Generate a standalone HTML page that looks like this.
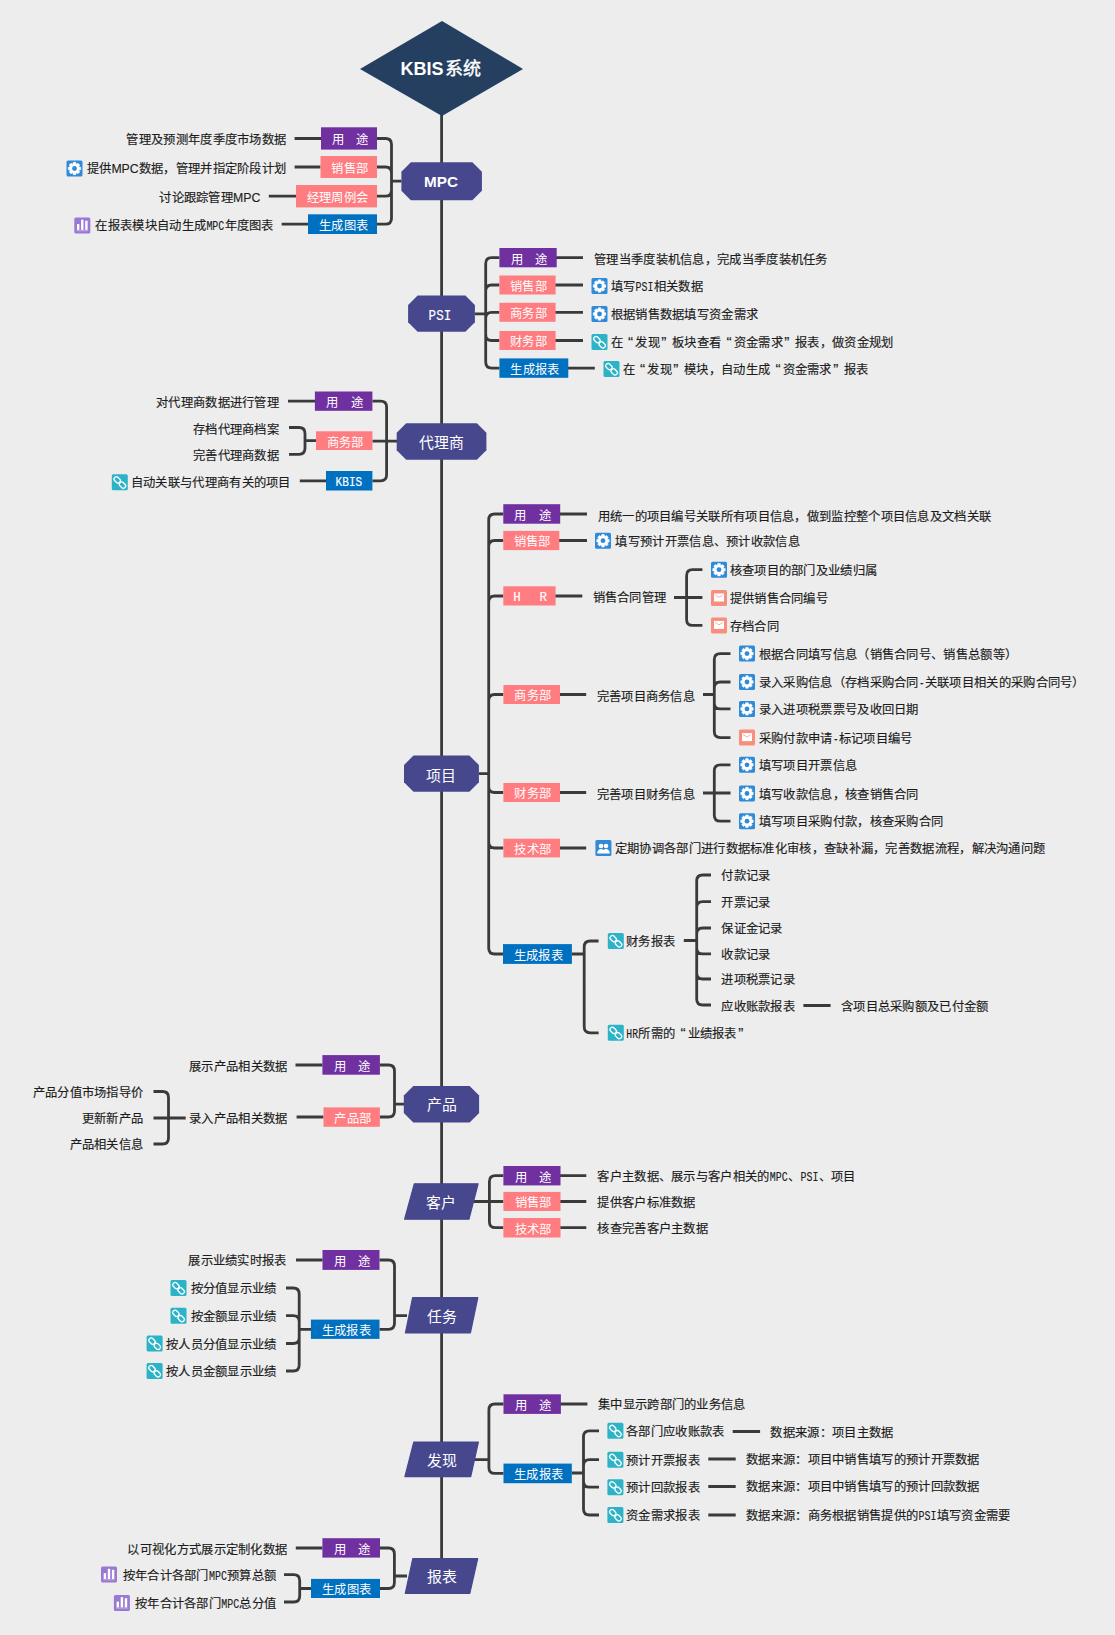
<!DOCTYPE html>
<html lang="zh-CN"><head><meta charset="utf-8"><title>KBIS系统</title>
<style>
html,body{margin:0;padding:0;background:#ededed;}
body{width:1115px;height:1635px;overflow:hidden;font-family:"Liberation Sans",sans-serif;}
svg{display:block;font-family:"Liberation Sans",sans-serif;}
</style></head><body>
<svg width="1115" height="1635" viewBox="0 0 1115 1635">
<rect width="1115" height="1635" fill="#ededed"/>
<path d="M441.6 110.0L441.6 1560.0M401.5 181.2L391.5 181.2L391.5 144.5Q391.5 138.5 385.5 138.5L377.0 138.5M401.5 181.2L391.5 181.2L391.5 173.0Q391.5 167.0 385.5 167.0L377.0 167.0M401.5 181.2L391.5 181.2L391.5 190.2Q391.5 196.2 385.5 196.2L377.0 196.2M401.5 181.2L391.5 181.2L391.5 218.2Q391.5 224.2 385.5 224.2L377.0 224.2M294.6 138.5L321.0 138.5M294.6 167.0L320.5 167.0M268.8 196.2L296.0 196.2M281.7 224.2L308.0 224.2M475.0 313.8L485.7 313.8L485.7 263.7Q485.7 257.7 491.7 257.7L499.4 257.7M475.0 313.8L485.7 313.8L485.7 291.0Q485.7 285.0 491.7 285.0L499.4 285.0M475.0 313.8L485.7 313.8L485.7 318.3Q485.7 312.3 491.7 312.3L499.4 312.3M475.0 313.8L485.7 313.8L485.7 334.5Q485.7 340.5 491.7 340.5L499.4 340.5M475.0 313.8L485.7 313.8L485.7 362.1Q485.7 368.1 491.7 368.1L499.4 368.1M555.0 257.7L583.0 257.7M555.0 285.0L583.0 285.0M555.0 312.3L583.0 312.3M555.0 340.5L583.0 340.5M568.0 368.1L594.8 368.1M397.0 441.2L386.6 441.2L386.6 407.2Q386.6 401.2 380.6 401.2L372.4 401.2M397.0 441.2L372.4 441.2M397.0 441.2L386.6 441.2L386.6 474.8Q386.6 480.8 380.6 480.8L372.4 480.8M288.0 401.2L315.0 401.2M299.8 480.8L326.0 480.8M316.0 440.7L305.0 440.7L305.0 433.5Q305.0 427.5 299.0 427.5L289.0 427.5M316.0 440.7L305.0 440.7L305.0 448.3Q305.0 454.3 299.0 454.3L289.0 454.3M479.0 773.6L488.7 773.6L488.7 520.0Q488.7 514.0 494.7 514.0L503.3 514.0M479.0 773.6L488.7 773.6L488.7 546.5Q488.7 540.5 494.7 540.5L503.3 540.5M479.0 773.6L488.7 773.6L488.7 602.0Q488.7 596.0 494.7 596.0L503.3 596.0M479.0 773.6L488.7 773.6L488.7 700.5Q488.7 694.5 494.7 694.5L503.3 694.5M479.0 773.6L488.7 773.6L488.7 786.5Q488.7 792.5 494.7 792.5L503.3 792.5M479.0 773.6L488.7 773.6L488.7 842.0Q488.7 848.0 494.7 848.0L503.3 848.0M479.0 773.6L488.7 773.6L488.7 948.0Q488.7 954.0 494.7 954.0L503.3 954.0M560.0 514.0L587.0 514.0M559.0 540.5L587.0 540.5M555.0 596.0L582.3 596.0M560.0 694.5L586.2 694.5M560.0 792.5L586.2 792.5M560.0 848.0L586.2 848.0M674.0 597.5L686.6 597.5L686.6 575.7Q686.6 569.7 692.6 569.7L702.4 569.7M674.0 597.5L702.4 597.5M674.0 597.5L686.6 597.5L686.6 619.4Q686.6 625.4 692.6 625.4L702.4 625.4M703.0 694.5L714.3 694.5L714.3 659.6Q714.3 653.6 720.3 653.6L730.5 653.6M703.0 694.5L714.3 694.5L714.3 688.0Q714.3 682.0 720.3 682.0L730.5 682.0M703.0 694.5L714.3 694.5L714.3 702.9Q714.3 708.9 720.3 708.9L730.5 708.9M703.0 694.5L714.3 694.5L714.3 731.6Q714.3 737.6 720.3 737.6L730.5 737.6M703.0 793.0L714.3 793.0L714.3 770.8Q714.3 764.8 720.3 764.8L730.5 764.8M703.0 793.0L730.5 793.0M703.0 793.0L714.3 793.0L714.3 815.2Q714.3 821.2 720.3 821.2L730.5 821.2M571.9 954.0L584.2 954.0L584.2 947.0Q584.2 941.0 590.2 941.0L598.6 941.0M571.9 954.0L584.2 954.0L584.2 1026.8Q584.2 1032.8 590.2 1032.8L598.6 1032.8M683.8 940.5L696.7 940.5L696.7 881.0Q696.7 875.0 702.7 875.0L711.0 875.0M683.8 940.5L696.7 940.5L696.7 907.6Q696.7 901.6 702.7 901.6L711.0 901.6M683.8 940.5L696.7 940.5L696.7 934.0Q696.7 928.0 702.7 928.0L711.0 928.0M683.8 940.5L696.7 940.5L696.7 947.9Q696.7 953.9 702.7 953.9L711.0 953.9M683.8 940.5L696.7 940.5L696.7 973.0Q696.7 979.0 702.7 979.0L711.0 979.0M683.8 940.5L696.7 940.5L696.7 999.0Q696.7 1005.0 702.7 1005.0L711.0 1005.0M803.4 1005.5L830.6 1005.5M404.0 1104.2L394.5 1104.2L394.5 1071.0Q394.5 1065.0 388.5 1065.0L379.9 1065.0M404.0 1104.2L394.5 1104.2L394.5 1111.0Q394.5 1117.0 388.5 1117.0L379.9 1117.0M295.5 1065.0L322.4 1065.0M296.6 1117.0L323.5 1117.0M185.7 1118.0L168.5 1118.0L168.5 1097.5Q168.5 1091.5 162.5 1091.5L153.5 1091.5M185.7 1118.0L153.5 1118.0M185.7 1118.0L168.5 1118.0L168.5 1138.0Q168.5 1144.0 162.5 1144.0L153.5 1144.0M474.0 1201.5L489.4 1201.5L489.4 1181.7Q489.4 1175.7 495.4 1175.7L503.4 1175.7M474.0 1201.5L503.4 1201.5M474.0 1201.5L489.4 1201.5L489.4 1221.7Q489.4 1227.7 495.4 1227.7L503.4 1227.7M560.0 1175.7L586.3 1175.7M560.0 1201.5L586.3 1201.5M560.0 1227.7L586.3 1227.7M407.0 1315.7L394.5 1315.7L394.5 1266.0Q394.5 1260.0 388.5 1260.0L379.5 1260.0M407.0 1315.7L394.5 1315.7L394.5 1323.3Q394.5 1329.3 388.5 1329.3L379.5 1329.3M296.0 1260.0L322.5 1260.0M311.0 1329.3L299.2 1329.3L299.2 1294.0Q299.2 1288.0 293.2 1288.0L286.0 1288.0M311.0 1329.3L299.2 1329.3L299.2 1321.7Q299.2 1315.7 293.2 1315.7L286.0 1315.7M311.0 1329.3L299.2 1329.3L299.2 1337.5Q299.2 1343.5 293.2 1343.5L286.0 1343.5M311.0 1329.3L299.2 1329.3L299.2 1365.0Q299.2 1371.0 293.2 1371.0L286.0 1371.0M474.0 1459.7L488.9 1459.7L488.9 1410.0Q488.9 1404.0 494.9 1404.0L503.5 1404.0M474.0 1459.7L488.9 1459.7L488.9 1467.4Q488.9 1473.4 494.9 1473.4L503.5 1473.4M560.0 1404.0L587.4 1404.0M571.8 1473.0L583.5 1473.0L583.5 1436.8Q583.5 1430.8 589.5 1430.8L599.0 1430.8M571.8 1473.0L583.5 1473.0L583.5 1465.7Q583.5 1459.7 589.5 1459.7L599.0 1459.7M571.8 1473.0L583.5 1473.0L583.5 1481.2Q583.5 1487.2 589.5 1487.2L599.0 1487.2M571.8 1473.0L583.5 1473.0L583.5 1509.0Q583.5 1515.0 589.5 1515.0L599.0 1515.0M732.7 1431.5L760.1 1431.5M708.3 1459.0L735.7 1459.0M708.3 1486.5L735.7 1486.5M708.3 1515.0L735.7 1515.0M407.0 1576.0L394.4 1576.0L394.4 1554.0Q394.4 1548.0 388.4 1548.0L380.0 1548.0M407.0 1576.0L394.4 1576.0L394.4 1582.5Q394.4 1588.5 388.4 1588.5L380.0 1588.5M295.8 1548.0L322.4 1548.0M311.0 1588.5L299.7 1588.5L299.7 1580.7Q299.7 1574.7 293.7 1574.7L284.0 1574.7M311.0 1588.5L299.7 1588.5L299.7 1596.0Q299.7 1602.0 293.7 1602.0L284.0 1602.0" fill="none" stroke="#3a3a3a" stroke-width="2.8" stroke-linecap="butt" stroke-linejoin="round"/>
<polygon points="360,69 442,21 523,69 442,116" fill="#243f5f"/>
<text x="400.6" y="75.1" textLength="43.0" lengthAdjust="spacingAndGlyphs" style="font-family:'Liberation Sans',sans-serif;font-size:18.0px;font-weight:bold" fill="#ffffff">KBIS</text>
<text y="75.3" style="font-size:18.0px;font-weight:normal" fill="#ffffff" stroke="#ffffff" stroke-width="0.40"><tspan x="445.0 463.0">系统</tspan></text>
<polygon points="410.9,162.2 472.4,162.2 481.9,171.7 481.9,190.7 472.4,200.2 410.9,200.2 401.4,190.7 401.4,171.7" fill="#46478d"/>
<text x="424.0" y="187.1" textLength="34.0" lengthAdjust="spacingAndGlyphs" style="font-family:'Liberation Sans',sans-serif;font-size:15.3px;font-weight:bold" fill="#ffffff">MPC</text>
<polygon points="417.6,295.5 465.4,295.5 474.9,305.0 474.9,322.3 465.4,331.8 417.6,331.8 408.1,322.3 408.1,305.0" fill="#46478d"/>
<polygon points="406.2,423.3 476.9,423.3 486.4,432.8 486.4,450.2 476.9,459.7 406.2,459.7 396.7,450.2 396.7,432.8" fill="#46478d"/>
<polygon points="413.5,755.5 469.4,755.5 478.9,765.0 478.9,782.3 469.4,791.8 413.5,791.8 404.0,782.3 404.0,765.0" fill="#46478d"/>
<polygon points="413.3,1085.9 469.6,1085.9 479.1,1095.4 479.1,1113.0 469.6,1122.5 413.3,1122.5 403.8,1113.0 403.8,1095.4" fill="#46478d"/>
<path d="M414.3 1183.8L478.1 1183.8L469.0 1219.2L404.6 1219.2Z" fill="#46478d" stroke="#46478d" stroke-width="1.2" stroke-linejoin="round"/>
<path d="M412.6 1297.6L477.8 1297.6L470.4 1333.0L405.4 1333.0Z" fill="#46478d" stroke="#46478d" stroke-width="1.2" stroke-linejoin="round"/>
<path d="M413.8 1442.0L478.4 1442.0L470.7 1476.7L404.9 1476.7Z" fill="#46478d" stroke="#46478d" stroke-width="1.2" stroke-linejoin="round"/>
<path d="M412.8 1558.6L477.7 1558.6L469.8 1593.4L405.3 1593.4Z" fill="#46478d" stroke="#46478d" stroke-width="1.2" stroke-linejoin="round"/>
<text x="428.6" y="320" textLength="22.6" lengthAdjust="spacingAndGlyphs" style="font-family:'Liberation Mono',monospace;font-size:15.5px" fill="#fff" stroke="#fff" stroke-width="0.15">PSI</text>
<text y="447.7" style="font-size:14.9px;font-weight:normal" fill="#ffffff"><tspan x="419.1 434.0 448.9">代理商</tspan></text>
<text y="780.7" style="font-size:14.9px;font-weight:normal" fill="#ffffff"><tspan x="426.1 441.0">项目</tspan></text>
<text y="1110.4" style="font-size:14.9px;font-weight:normal" fill="#ffffff"><tspan x="426.6 441.5">产品</tspan></text>
<text y="1207.7" style="font-size:14.9px;font-weight:normal" fill="#ffffff"><tspan x="426.3 441.2">客户</tspan></text>
<text y="1321.5" style="font-size:14.9px;font-weight:normal" fill="#ffffff"><tspan x="426.8 441.7">任务</tspan></text>
<text y="1465.6" style="font-size:14.9px;font-weight:normal" fill="#ffffff"><tspan x="426.8 441.7">发现</tspan></text>
<text y="1582.2" style="font-size:14.9px;font-weight:normal" fill="#ffffff"><tspan x="426.6 441.5">报表</tspan></text>
<rect x="321.0" y="127.3" width="56.0" height="22.3" fill="#7030a0"/>
<text y="144.3" style="font-size:12.3px;font-weight:normal" fill="#ffffff"><tspan x="331.6 343.9 356.2">用　途</tspan></text>
<rect x="320.5" y="156.0" width="56.5" height="22.0" fill="#ff7c80"/>
<text y="172.8" style="font-size:12.3px;font-weight:normal" fill="#ffffff"><tspan x="331.3 343.6 355.9">销售部</tspan></text>
<rect x="296.0" y="185.0" width="81.0" height="22.4" fill="#ff7c80"/>
<text y="202.0" style="font-size:12.3px;font-weight:normal" fill="#ffffff"><tspan x="306.8 319.1 331.4 343.7 356.0">经理周例会</tspan></text>
<rect x="308.0" y="214.3" width="69.0" height="19.7" fill="#0070c0"/>
<text y="230.0" style="font-size:12.3px;font-weight:normal" fill="#ffffff"><tspan x="318.9 331.2 343.5 355.8">生成图表</tspan></text>
<rect x="499.4" y="248.0" width="57.3" height="19.3" fill="#7030a0"/>
<text y="263.5" style="font-size:12.3px;font-weight:normal" fill="#ffffff"><tspan x="510.6 522.9 535.2">用　途</tspan></text>
<rect x="499.4" y="275.5" width="56.2" height="19.0" fill="#ff7c80"/>
<text y="290.8" style="font-size:12.3px;font-weight:normal" fill="#ffffff"><tspan x="510.1 522.4 534.6">销售部</tspan></text>
<rect x="499.4" y="302.8" width="56.2" height="19.0" fill="#ff7c80"/>
<text y="318.1" style="font-size:12.3px;font-weight:normal" fill="#ffffff"><tspan x="510.1 522.4 534.6">商务部</tspan></text>
<rect x="499.4" y="331.0" width="56.2" height="19.0" fill="#ff7c80"/>
<text y="346.3" style="font-size:12.3px;font-weight:normal" fill="#ffffff"><tspan x="510.1 522.4 534.6">财务部</tspan></text>
<rect x="499.4" y="358.4" width="68.9" height="19.4" fill="#0070c0"/>
<text y="373.9" style="font-size:12.3px;font-weight:normal" fill="#ffffff"><tspan x="510.2 522.5 534.8 547.1">生成报表</tspan></text>
<rect x="314.9" y="391.5" width="57.5" height="19.3" fill="#7030a0"/>
<text y="407.0" style="font-size:12.3px;font-weight:normal" fill="#ffffff"><tspan x="326.2 338.5 350.8">用　途</tspan></text>
<rect x="316.0" y="431.3" width="56.4" height="18.7" fill="#ff7c80"/>
<text y="446.5" style="font-size:12.3px;font-weight:normal" fill="#ffffff"><tspan x="326.8 339.1 351.4">商务部</tspan></text>
<rect x="326.0" y="471.0" width="46.4" height="19.5" fill="#0070c0"/>
<text x="335.6" y="486.3" textLength="26.6" lengthAdjust="spacingAndGlyphs" style="font-family:'Liberation Mono',monospace;font-size:13px" fill="#fff" stroke="#fff" stroke-width="0.2">KBIS</text>
<rect x="503.3" y="504.2" width="56.9" height="19.5" fill="#7030a0"/>
<text y="519.8" style="font-size:12.3px;font-weight:normal" fill="#ffffff"><tspan x="514.3 526.6 538.9">用　途</tspan></text>
<rect x="503.3" y="530.9" width="56.0" height="19.2" fill="#ff7c80"/>
<text y="546.3" style="font-size:12.3px;font-weight:normal" fill="#ffffff"><tspan x="513.8 526.1 538.4">销售部</tspan></text>
<rect x="503.3" y="586.3" width="52.3" height="19.2" fill="#ff7c80"/>
<text y="601" style="font-family:'Liberation Mono',monospace;font-size:12.5px" fill="#fff" stroke="#fff" stroke-width="0.15"><tspan x="513.2">H</tspan><tspan x="539.6">R</tspan></text>
<rect x="503.4" y="685.0" width="56.6" height="19.0" fill="#ff7c80"/>
<text y="700.3" style="font-size:12.3px;font-weight:normal" fill="#ffffff"><tspan x="514.2 526.5 538.8">商务部</tspan></text>
<rect x="503.4" y="783.0" width="56.6" height="19.0" fill="#ff7c80"/>
<text y="798.3" style="font-size:12.3px;font-weight:normal" fill="#ffffff"><tspan x="514.2 526.5 538.8">财务部</tspan></text>
<rect x="503.4" y="838.7" width="56.6" height="18.7" fill="#ff7c80"/>
<text y="853.9" style="font-size:12.3px;font-weight:normal" fill="#ffffff"><tspan x="514.2 526.5 538.8">技术部</tspan></text>
<rect x="503.0" y="944.1" width="68.9" height="19.8" fill="#0070c0"/>
<text y="959.8" style="font-size:12.3px;font-weight:normal" fill="#ffffff"><tspan x="513.9 526.1 538.4 550.7">生成报表</tspan></text>
<rect x="322.4" y="1055.1" width="57.5" height="19.6" fill="#7030a0"/>
<text y="1070.7" style="font-size:12.3px;font-weight:normal" fill="#ffffff"><tspan x="333.7 346.0 358.3">用　途</tspan></text>
<rect x="323.5" y="1107.4" width="56.4" height="19.4" fill="#ff7c80"/>
<text y="1122.9" style="font-size:12.3px;font-weight:normal" fill="#ffffff"><tspan x="334.2 346.6 358.9">产品部</tspan></text>
<rect x="503.4" y="1166.0" width="57.1" height="19.4" fill="#7030a0"/>
<text y="1181.5" style="font-size:12.3px;font-weight:normal" fill="#ffffff"><tspan x="514.5 526.8 539.1">用　途</tspan></text>
<rect x="503.4" y="1191.9" width="57.1" height="19.1" fill="#ff7c80"/>
<text y="1207.3" style="font-size:12.3px;font-weight:normal" fill="#ffffff"><tspan x="514.5 526.8 539.1">销售部</tspan></text>
<rect x="503.4" y="1218.0" width="57.1" height="19.5" fill="#ff7c80"/>
<text y="1233.6" style="font-size:12.3px;font-weight:normal" fill="#ffffff"><tspan x="514.5 526.8 539.1">技术部</tspan></text>
<rect x="322.5" y="1250.0" width="57.0" height="19.9" fill="#7030a0"/>
<text y="1265.8" style="font-size:12.3px;font-weight:normal" fill="#ffffff"><tspan x="333.6 345.9 358.2">用　途</tspan></text>
<rect x="310.9" y="1319.6" width="68.6" height="19.3" fill="#0070c0"/>
<text y="1335.1" style="font-size:12.3px;font-weight:normal" fill="#ffffff"><tspan x="321.6 333.9 346.2 358.5">生成报表</tspan></text>
<rect x="503.5" y="1394.3" width="57.4" height="19.6" fill="#7030a0"/>
<text y="1409.9" style="font-size:12.3px;font-weight:normal" fill="#ffffff"><tspan x="514.8 527.0 539.3">用　途</tspan></text>
<rect x="503.5" y="1463.6" width="68.3" height="19.6" fill="#0070c0"/>
<text y="1479.2" style="font-size:12.3px;font-weight:normal" fill="#ffffff"><tspan x="514.0 526.3 538.6 550.9">生成报表</tspan></text>
<rect x="322.4" y="1538.2" width="57.6" height="19.4" fill="#7030a0"/>
<text y="1553.7" style="font-size:12.3px;font-weight:normal" fill="#ffffff"><tspan x="333.8 346.1 358.4">用　途</tspan></text>
<rect x="311.0" y="1578.9" width="69.0" height="19.1" fill="#0070c0"/>
<text y="1594.3" style="font-size:12.3px;font-weight:normal" fill="#ffffff"><tspan x="321.9 334.2 346.5 358.8">生成图表</tspan></text>
<text y="144.1" style="font-size:12.3px;font-weight:normal" fill="#1c1c1c" stroke="#1c1c1c" stroke-width="0.15"><tspan x="126.4 138.7 151.0 163.3 175.6 187.9 200.2 212.5 224.8 237.1 249.4 261.7 274.0">管理及预测年度季度市场数据</tspan></text>
<g transform="translate(66.5 160.5)"><rect x="0" y="0" width="16" height="16" rx="1.5" fill="#2f8ad8"/><path fill="#fff" stroke="#fff" stroke-width="0.6" stroke-linejoin="round" d="M6.52 3.33L6.77 1.82L9.23 1.82L9.48 3.33L10.26 3.65L11.50 2.76L13.24 4.50L12.35 5.74L12.67 6.52L14.18 6.77L14.18 9.23L12.67 9.48L12.35 10.26L13.24 11.50L11.50 13.24L10.26 12.35L9.48 12.67L9.23 14.18L6.77 14.18L6.52 12.67L5.74 12.35L4.50 13.24L2.76 11.50L3.65 10.26L3.33 9.48L1.82 9.23L1.82 6.77L3.33 6.52L3.65 5.74L2.76 4.50L4.50 2.76L5.74 3.65Z"/><circle cx="8" cy="8" r="2.4" fill="#2f8ad8"/></g>
<text y="173.1" style="font-size:12.3px;font-weight:normal" fill="#1c1c1c" stroke="#1c1c1c" stroke-width="0.15"><tspan x="86.8 99.1">提供</tspan><tspan x="138.7 151.0 163.3 175.6 187.9 200.2 212.5 224.8 237.1 249.4 261.7 274.0">数据，管理并指定阶段计划</tspan></text>
<text x="111.4" y="173.1" textLength="27.3" lengthAdjust="spacingAndGlyphs" style="font-family:'Liberation Sans',sans-serif;font-size:12.3px;font-weight:normal" fill="#1c1c1c" stroke="#1c1c1c" stroke-width="0.15">MPC</text>
<text y="201.6" style="font-size:12.3px;font-weight:normal" fill="#1c1c1c" stroke="#1c1c1c" stroke-width="0.15"><tspan x="159.2 171.5 183.8 196.1 208.4 220.7">讨论跟踪管理</tspan></text>
<text x="233.0" y="201.6" textLength="27.3" lengthAdjust="spacingAndGlyphs" style="font-family:'Liberation Sans',sans-serif;font-size:12.3px;font-weight:normal" fill="#1c1c1c" stroke="#1c1c1c" stroke-width="0.15">MPC</text>
<g transform="translate(74.3 217.5)"><rect x="0" y="0" width="16" height="16" rx="1.5" fill="#9a78d6"/><rect x="2.7" y="6.6" width="2.4" height="5.8" fill="#fff"/><rect x="6.8" y="2.2" width="2.4" height="10.2" fill="#fff"/><rect x="10.9" y="3.2" width="2.4" height="9.2" fill="#fff"/><rect x="2.2" y="12.5" width="11.6" height="1.3" fill="#fff" opacity="0.3"/></g>
<text y="230.1" style="font-size:12.3px;font-weight:normal" fill="#1c1c1c" stroke="#1c1c1c" stroke-width="0.15"><tspan x="95.3 107.6 119.9 132.2 144.5 156.8 169.2 181.5 193.8">在报表模块自动生成</tspan><tspan x="224.5 236.8 249.1 261.4">年度图表</tspan></text>
<text x="206.4" y="230.1" textLength="17.9" lengthAdjust="spacingAndGlyphs" style="font-family:'Liberation Mono',monospace;font-size:12.5px;font-weight:normal" fill="#1c1c1c" stroke="#1c1c1c" stroke-width="0.15">MPC</text>
<text y="264.4" style="font-size:12.3px;font-weight:normal" fill="#1c1c1c" stroke="#1c1c1c" stroke-width="0.15"><tspan x="594.0 606.3 618.6 630.9 643.2 655.5 667.8 680.1 692.4 704.7 717.0 729.3 741.6 753.9 766.2 778.5 790.8 803.1 815.4">管理当季度装机信息，完成当季度装机任务</tspan></text>
<g transform="translate(591.5 278.0)"><rect x="0" y="0" width="16" height="16" rx="1.5" fill="#2f8ad8"/><path fill="#fff" stroke="#fff" stroke-width="0.6" stroke-linejoin="round" d="M6.52 3.33L6.77 1.82L9.23 1.82L9.48 3.33L10.26 3.65L11.50 2.76L13.24 4.50L12.35 5.74L12.67 6.52L14.18 6.77L14.18 9.23L12.67 9.48L12.35 10.26L13.24 11.50L11.50 13.24L10.26 12.35L9.48 12.67L9.23 14.18L6.77 14.18L6.52 12.67L5.74 12.35L4.50 13.24L2.76 11.50L3.65 10.26L3.33 9.48L1.82 9.23L1.82 6.77L3.33 6.52L3.65 5.74L2.76 4.50L4.50 2.76L5.74 3.65Z"/><circle cx="8" cy="8" r="2.4" fill="#2f8ad8"/></g>
<text y="291.1" style="font-size:12.3px;font-weight:normal" fill="#1c1c1c" stroke="#1c1c1c" stroke-width="0.15"><tspan x="610.6 622.9">填写</tspan><tspan x="653.6 665.9 678.2 690.5">相关数据</tspan></text>
<text x="635.5" y="291.1" textLength="17.9" lengthAdjust="spacingAndGlyphs" style="font-family:'Liberation Mono',monospace;font-size:12.5px;font-weight:normal" fill="#1c1c1c" stroke="#1c1c1c" stroke-width="0.15">PSI</text>
<g transform="translate(591.5 306.0)"><rect x="0" y="0" width="16" height="16" rx="1.5" fill="#2f8ad8"/><path fill="#fff" stroke="#fff" stroke-width="0.6" stroke-linejoin="round" d="M6.52 3.33L6.77 1.82L9.23 1.82L9.48 3.33L10.26 3.65L11.50 2.76L13.24 4.50L12.35 5.74L12.67 6.52L14.18 6.77L14.18 9.23L12.67 9.48L12.35 10.26L13.24 11.50L11.50 13.24L10.26 12.35L9.48 12.67L9.23 14.18L6.77 14.18L6.52 12.67L5.74 12.35L4.50 13.24L2.76 11.50L3.65 10.26L3.33 9.48L1.82 9.23L1.82 6.77L3.33 6.52L3.65 5.74L2.76 4.50L4.50 2.76L5.74 3.65Z"/><circle cx="8" cy="8" r="2.4" fill="#2f8ad8"/></g>
<text y="319.1" style="font-size:12.3px;font-weight:normal" fill="#1c1c1c" stroke="#1c1c1c" stroke-width="0.15"><tspan x="610.6 622.9 635.2 647.5 659.8 672.1 684.4 696.7 709.0 721.3 733.6 745.9">根据销售数据填写资金需求</tspan></text>
<g transform="translate(591.5 334.0)"><rect x="0" y="0" width="16" height="16" rx="1.5" fill="#2cb3c8"/><g fill="none" stroke="#fff" stroke-width="1.3"><rect x="-2.3" y="-3.4" width="4.6" height="6.8" rx="2" transform="translate(5.4 5.6) rotate(-45)"/><rect x="-2.3" y="-3.4" width="4.6" height="6.8" rx="2" transform="translate(10.7 10.9) rotate(-45)"/></g></g>
<text y="347.1" style="font-size:12.3px;font-weight:normal" fill="#1c1c1c" stroke="#1c1c1c" stroke-width="0.15"><tspan x="610.6">在</tspan><tspan x="628.1" style="font-size:15.4px">“</tspan><tspan x="635.2 647.5">发现</tspan><tspan x="661.3" style="font-size:15.4px">”</tspan><tspan x="672.1 684.4 696.7 709.0">板块查看</tspan><tspan x="726.5" style="font-size:15.4px">“</tspan><tspan x="733.6 745.9 758.2 770.5">资金需求</tspan><tspan x="784.3" style="font-size:15.4px">”</tspan><tspan x="795.1 807.4 819.7 832.0 844.3 856.6 868.9 881.2">报表，做资金规划</tspan></text>
<g transform="translate(603.5 361.0)"><rect x="0" y="0" width="16" height="16" rx="1.5" fill="#2cb3c8"/><g fill="none" stroke="#fff" stroke-width="1.3"><rect x="-2.3" y="-3.4" width="4.6" height="6.8" rx="2" transform="translate(5.4 5.6) rotate(-45)"/><rect x="-2.3" y="-3.4" width="4.6" height="6.8" rx="2" transform="translate(10.7 10.9) rotate(-45)"/></g></g>
<text y="374.1" style="font-size:12.3px;font-weight:normal" fill="#1c1c1c" stroke="#1c1c1c" stroke-width="0.15"><tspan x="622.6">在</tspan><tspan x="640.1" style="font-size:15.4px">“</tspan><tspan x="647.2 659.5">发现</tspan><tspan x="673.3" style="font-size:15.4px">”</tspan><tspan x="684.1 696.4 708.7 721.0 733.3 745.6 757.9">模块，自动生成</tspan><tspan x="775.4" style="font-size:15.4px">“</tspan><tspan x="782.5 794.8 807.1 819.4">资金需求</tspan><tspan x="833.2" style="font-size:15.4px">”</tspan><tspan x="844.0 856.3">报表</tspan></text>
<text y="407.1" style="font-size:12.3px;font-weight:normal" fill="#1c1c1c" stroke="#1c1c1c" stroke-width="0.15"><tspan x="156.0 168.3 180.6 192.9 205.2 217.5 229.8 242.1 254.4 266.7">对代理商数据进行管理</tspan></text>
<text y="433.6" style="font-size:12.3px;font-weight:normal" fill="#1c1c1c" stroke="#1c1c1c" stroke-width="0.15"><tspan x="192.9 205.2 217.5 229.8 242.1 254.4 266.7">存档代理商档案</tspan></text>
<text y="459.6" style="font-size:12.3px;font-weight:normal" fill="#1c1c1c" stroke="#1c1c1c" stroke-width="0.15"><tspan x="192.9 205.2 217.5 229.8 242.1 254.4 266.7">完善代理商数据</tspan></text>
<g transform="translate(111.8 474.2)"><rect x="0" y="0" width="16" height="16" rx="1.5" fill="#2cb3c8"/><g fill="none" stroke="#fff" stroke-width="1.3"><rect x="-2.3" y="-3.4" width="4.6" height="6.8" rx="2" transform="translate(5.4 5.6) rotate(-45)"/><rect x="-2.3" y="-3.4" width="4.6" height="6.8" rx="2" transform="translate(10.7 10.9) rotate(-45)"/></g></g>
<text y="487.0" style="font-size:12.3px;font-weight:normal" fill="#1c1c1c" stroke="#1c1c1c" stroke-width="0.15"><tspan x="130.8 143.1 155.4 167.7 180.0 192.3 204.6 216.9 229.2 241.5 253.8 266.1 278.4">自动关联与代理商有关的项目</tspan></text>
<text y="520.6" style="font-size:12.3px;font-weight:normal" fill="#1c1c1c" stroke="#1c1c1c" stroke-width="0.15"><tspan x="597.6 609.9 622.2 634.5 646.8 659.1 671.4 683.7 696.0 708.3 720.6 732.9 745.2 757.5 769.8 782.1 794.4 806.7 819.0 831.3 843.6 855.9 868.2 880.5 892.8 905.1 917.4 929.7 942.0 954.3 966.6 978.9">用统一的项目编号关联所有项目信息，做到监控整个项目信息及文档关联</tspan></text>
<g transform="translate(595.0 532.7)"><rect x="0" y="0" width="16" height="16" rx="1.5" fill="#2f8ad8"/><path fill="#fff" stroke="#fff" stroke-width="0.6" stroke-linejoin="round" d="M6.52 3.33L6.77 1.82L9.23 1.82L9.48 3.33L10.26 3.65L11.50 2.76L13.24 4.50L12.35 5.74L12.67 6.52L14.18 6.77L14.18 9.23L12.67 9.48L12.35 10.26L13.24 11.50L11.50 13.24L10.26 12.35L9.48 12.67L9.23 14.18L6.77 14.18L6.52 12.67L5.74 12.35L4.50 13.24L2.76 11.50L3.65 10.26L3.33 9.48L1.82 9.23L1.82 6.77L3.33 6.52L3.65 5.74L2.76 4.50L4.50 2.76L5.74 3.65Z"/><circle cx="8" cy="8" r="2.4" fill="#2f8ad8"/></g>
<text y="545.8" style="font-size:12.3px;font-weight:normal" fill="#1c1c1c" stroke="#1c1c1c" stroke-width="0.15"><tspan x="615.4 627.7 640.0 652.3 664.6 676.9 689.2 701.5 713.8 726.1 738.4 750.7 763.0 775.3 787.6">填写预计开票信息、预计收款信息</tspan></text>
<text y="602.1" style="font-size:12.3px;font-weight:normal" fill="#1c1c1c" stroke="#1c1c1c" stroke-width="0.15"><tspan x="592.5 604.8 617.1 629.4 641.7 654.0">销售合同管理</tspan></text>
<g transform="translate(711.0 561.7)"><rect x="0" y="0" width="16" height="16" rx="1.5" fill="#2f8ad8"/><path fill="#fff" stroke="#fff" stroke-width="0.6" stroke-linejoin="round" d="M6.52 3.33L6.77 1.82L9.23 1.82L9.48 3.33L10.26 3.65L11.50 2.76L13.24 4.50L12.35 5.74L12.67 6.52L14.18 6.77L14.18 9.23L12.67 9.48L12.35 10.26L13.24 11.50L11.50 13.24L10.26 12.35L9.48 12.67L9.23 14.18L6.77 14.18L6.52 12.67L5.74 12.35L4.50 13.24L2.76 11.50L3.65 10.26L3.33 9.48L1.82 9.23L1.82 6.77L3.33 6.52L3.65 5.74L2.76 4.50L4.50 2.76L5.74 3.65Z"/><circle cx="8" cy="8" r="2.4" fill="#2f8ad8"/></g>
<text y="574.8" style="font-size:12.3px;font-weight:normal" fill="#1c1c1c" stroke="#1c1c1c" stroke-width="0.15"><tspan x="729.6 741.9 754.2 766.5 778.8 791.1 803.4 815.7 828.0 840.3 852.6 864.9">核查项目的部门及业绩归属</tspan></text>
<g transform="translate(711.0 590.0)"><rect x="0" y="0" width="16" height="16" rx="1.5" fill="#f78f7f"/><rect x="3" y="3.5" width="10" height="8" fill="#fff"/><path d="M4.2 5l3.8 2.4 3.8-2.4" fill="none" stroke="#f78f7f" stroke-width="0.7"/></g>
<text y="603.1" style="font-size:12.3px;font-weight:normal" fill="#1c1c1c" stroke="#1c1c1c" stroke-width="0.15"><tspan x="729.6 741.9 754.2 766.5 778.8 791.1 803.4 815.7">提供销售合同编号</tspan></text>
<g transform="translate(711.0 617.4)"><rect x="0" y="0" width="16" height="16" rx="1.5" fill="#f78f7f"/><rect x="3" y="3.5" width="10" height="8" fill="#fff"/><path d="M4.2 5l3.8 2.4 3.8-2.4" fill="none" stroke="#f78f7f" stroke-width="0.7"/></g>
<text y="630.5" style="font-size:12.3px;font-weight:normal" fill="#1c1c1c" stroke="#1c1c1c" stroke-width="0.15"><tspan x="729.6 741.9 754.2 766.5">存档合同</tspan></text>
<text y="700.7" style="font-size:12.3px;font-weight:normal" fill="#1c1c1c" stroke="#1c1c1c" stroke-width="0.15"><tspan x="596.6 608.9 621.2 633.5 645.8 658.1 670.4 682.7">完善项目商务信息</tspan></text>
<g transform="translate(739.0 645.6)"><rect x="0" y="0" width="16" height="16" rx="1.5" fill="#2f8ad8"/><path fill="#fff" stroke="#fff" stroke-width="0.6" stroke-linejoin="round" d="M6.52 3.33L6.77 1.82L9.23 1.82L9.48 3.33L10.26 3.65L11.50 2.76L13.24 4.50L12.35 5.74L12.67 6.52L14.18 6.77L14.18 9.23L12.67 9.48L12.35 10.26L13.24 11.50L11.50 13.24L10.26 12.35L9.48 12.67L9.23 14.18L6.77 14.18L6.52 12.67L5.74 12.35L4.50 13.24L2.76 11.50L3.65 10.26L3.33 9.48L1.82 9.23L1.82 6.77L3.33 6.52L3.65 5.74L2.76 4.50L4.50 2.76L5.74 3.65Z"/><circle cx="8" cy="8" r="2.4" fill="#2f8ad8"/></g>
<text y="658.7" style="font-size:12.3px;font-weight:normal" fill="#1c1c1c" stroke="#1c1c1c" stroke-width="0.15"><tspan x="758.8 771.1 783.4 795.7 808.0 820.3 832.6 844.9 857.2 869.5 881.8 894.1 906.4 918.7 931.0 943.3 955.6 967.9 980.2 992.5 1004.8">根据合同填写信息（销售合同号、销售总额等）</tspan></text>
<g transform="translate(739.0 674.0)"><rect x="0" y="0" width="16" height="16" rx="1.5" fill="#2f8ad8"/><path fill="#fff" stroke="#fff" stroke-width="0.6" stroke-linejoin="round" d="M6.52 3.33L6.77 1.82L9.23 1.82L9.48 3.33L10.26 3.65L11.50 2.76L13.24 4.50L12.35 5.74L12.67 6.52L14.18 6.77L14.18 9.23L12.67 9.48L12.35 10.26L13.24 11.50L11.50 13.24L10.26 12.35L9.48 12.67L9.23 14.18L6.77 14.18L6.52 12.67L5.74 12.35L4.50 13.24L2.76 11.50L3.65 10.26L3.33 9.48L1.82 9.23L1.82 6.77L3.33 6.52L3.65 5.74L2.76 4.50L4.50 2.76L5.74 3.65Z"/><circle cx="8" cy="8" r="2.4" fill="#2f8ad8"/></g>
<text y="687.1" style="font-size:12.3px;font-weight:normal" fill="#1c1c1c" stroke="#1c1c1c" stroke-width="0.15"><tspan x="758.8 771.1 783.4 795.7 808.0 820.3 832.6 844.9 857.2 869.5 881.8 894.1 906.4">录入采购信息（存档采购合同</tspan><tspan x="924.8 937.1 949.4 961.7 974.0 986.3 998.6 1010.9 1023.2 1035.5 1047.8 1060.1 1072.4">关联项目相关的采购合同号）</tspan></text>
<text x="919.0" y="687.1" textLength="5.6" lengthAdjust="spacingAndGlyphs" style="font-family:'Liberation Mono',monospace;font-size:12.5px;font-weight:normal" fill="#1c1c1c" stroke="#1c1c1c" stroke-width="0.15">-</text>
<g transform="translate(739.0 700.9)"><rect x="0" y="0" width="16" height="16" rx="1.5" fill="#2f8ad8"/><path fill="#fff" stroke="#fff" stroke-width="0.6" stroke-linejoin="round" d="M6.52 3.33L6.77 1.82L9.23 1.82L9.48 3.33L10.26 3.65L11.50 2.76L13.24 4.50L12.35 5.74L12.67 6.52L14.18 6.77L14.18 9.23L12.67 9.48L12.35 10.26L13.24 11.50L11.50 13.24L10.26 12.35L9.48 12.67L9.23 14.18L6.77 14.18L6.52 12.67L5.74 12.35L4.50 13.24L2.76 11.50L3.65 10.26L3.33 9.48L1.82 9.23L1.82 6.77L3.33 6.52L3.65 5.74L2.76 4.50L4.50 2.76L5.74 3.65Z"/><circle cx="8" cy="8" r="2.4" fill="#2f8ad8"/></g>
<text y="714.0" style="font-size:12.3px;font-weight:normal" fill="#1c1c1c" stroke="#1c1c1c" stroke-width="0.15"><tspan x="758.8 771.1 783.4 795.7 808.0 820.3 832.6 844.9 857.2 869.5 881.8 894.1 906.4">录入进项税票票号及收回日期</tspan></text>
<g transform="translate(739.0 729.6)"><rect x="0" y="0" width="16" height="16" rx="1.5" fill="#f78f7f"/><rect x="3" y="3.5" width="10" height="8" fill="#fff"/><path d="M4.2 5l3.8 2.4 3.8-2.4" fill="none" stroke="#f78f7f" stroke-width="0.7"/></g>
<text y="742.7" style="font-size:12.3px;font-weight:normal" fill="#1c1c1c" stroke="#1c1c1c" stroke-width="0.15"><tspan x="758.8 771.1 783.4 795.7 808.0 820.3">采购付款申请</tspan><tspan x="838.7 851.0 863.3 875.6 887.9 900.2">标记项目编号</tspan></text>
<text x="832.9" y="742.7" textLength="5.6" lengthAdjust="spacingAndGlyphs" style="font-family:'Liberation Mono',monospace;font-size:12.5px;font-weight:normal" fill="#1c1c1c" stroke="#1c1c1c" stroke-width="0.15">-</text>
<text y="798.5" style="font-size:12.3px;font-weight:normal" fill="#1c1c1c" stroke="#1c1c1c" stroke-width="0.15"><tspan x="596.6 608.9 621.2 633.5 645.8 658.1 670.4 682.7">完善项目财务信息</tspan></text>
<g transform="translate(739.0 756.8)"><rect x="0" y="0" width="16" height="16" rx="1.5" fill="#2f8ad8"/><path fill="#fff" stroke="#fff" stroke-width="0.6" stroke-linejoin="round" d="M6.52 3.33L6.77 1.82L9.23 1.82L9.48 3.33L10.26 3.65L11.50 2.76L13.24 4.50L12.35 5.74L12.67 6.52L14.18 6.77L14.18 9.23L12.67 9.48L12.35 10.26L13.24 11.50L11.50 13.24L10.26 12.35L9.48 12.67L9.23 14.18L6.77 14.18L6.52 12.67L5.74 12.35L4.50 13.24L2.76 11.50L3.65 10.26L3.33 9.48L1.82 9.23L1.82 6.77L3.33 6.52L3.65 5.74L2.76 4.50L4.50 2.76L5.74 3.65Z"/><circle cx="8" cy="8" r="2.4" fill="#2f8ad8"/></g>
<text y="769.9" style="font-size:12.3px;font-weight:normal" fill="#1c1c1c" stroke="#1c1c1c" stroke-width="0.15"><tspan x="758.8 771.1 783.4 795.7 808.0 820.3 832.6 844.9">填写项目开票信息</tspan></text>
<g transform="translate(739.0 785.5)"><rect x="0" y="0" width="16" height="16" rx="1.5" fill="#2f8ad8"/><path fill="#fff" stroke="#fff" stroke-width="0.6" stroke-linejoin="round" d="M6.52 3.33L6.77 1.82L9.23 1.82L9.48 3.33L10.26 3.65L11.50 2.76L13.24 4.50L12.35 5.74L12.67 6.52L14.18 6.77L14.18 9.23L12.67 9.48L12.35 10.26L13.24 11.50L11.50 13.24L10.26 12.35L9.48 12.67L9.23 14.18L6.77 14.18L6.52 12.67L5.74 12.35L4.50 13.24L2.76 11.50L3.65 10.26L3.33 9.48L1.82 9.23L1.82 6.77L3.33 6.52L3.65 5.74L2.76 4.50L4.50 2.76L5.74 3.65Z"/><circle cx="8" cy="8" r="2.4" fill="#2f8ad8"/></g>
<text y="798.6" style="font-size:12.3px;font-weight:normal" fill="#1c1c1c" stroke="#1c1c1c" stroke-width="0.15"><tspan x="758.8 771.1 783.4 795.7 808.0 820.3 832.6 844.9 857.2 869.5 881.8 894.1 906.4">填写收款信息，核查销售合同</tspan></text>
<g transform="translate(739.0 813.2)"><rect x="0" y="0" width="16" height="16" rx="1.5" fill="#2f8ad8"/><path fill="#fff" stroke="#fff" stroke-width="0.6" stroke-linejoin="round" d="M6.52 3.33L6.77 1.82L9.23 1.82L9.48 3.33L10.26 3.65L11.50 2.76L13.24 4.50L12.35 5.74L12.67 6.52L14.18 6.77L14.18 9.23L12.67 9.48L12.35 10.26L13.24 11.50L11.50 13.24L10.26 12.35L9.48 12.67L9.23 14.18L6.77 14.18L6.52 12.67L5.74 12.35L4.50 13.24L2.76 11.50L3.65 10.26L3.33 9.48L1.82 9.23L1.82 6.77L3.33 6.52L3.65 5.74L2.76 4.50L4.50 2.76L5.74 3.65Z"/><circle cx="8" cy="8" r="2.4" fill="#2f8ad8"/></g>
<text y="826.3" style="font-size:12.3px;font-weight:normal" fill="#1c1c1c" stroke="#1c1c1c" stroke-width="0.15"><tspan x="758.8 771.1 783.4 795.7 808.0 820.3 832.6 844.9 857.2 869.5 881.8 894.1 906.4 918.7 931.0">填写项目采购付款，核查采购合同</tspan></text>
<g transform="translate(595.4 840.0)"><rect x="0" y="0" width="16" height="16" rx="1.5" fill="#2f8ad8"/><circle cx="5.6" cy="6" r="2.3" fill="#fff"/><circle cx="10.6" cy="6" r="2.3" fill="#fff"/><path d="M1.8 13.5c0-3 1.7-4.5 3.8-4.5s3.8 1.5 3.8 4.5z M6.8 13.5c0-3 1.7-4.5 3.8-4.5s3.8 1.5 3.8 4.5z" fill="#fff"/></g>
<text y="853.1" style="font-size:12.3px;font-weight:normal" fill="#1c1c1c" stroke="#1c1c1c" stroke-width="0.15"><tspan x="614.8 627.1 639.4 651.7 664.0 676.3 688.6 700.9 713.2 725.5 737.8 750.1 762.4 774.7 787.0 799.3 811.6 823.9 836.2 848.5 860.8 873.1 885.4 897.7 910.0 922.3 934.6 946.9 959.2 971.5 983.8 996.1 1008.4 1020.7 1033.0">定期协调各部门进行数据标准化审核，查缺补漏，完善数据流程，解决沟通问题</tspan></text>
<g transform="translate(607.8 933.0)"><rect x="0" y="0" width="16" height="16" rx="1.5" fill="#2cb3c8"/><g fill="none" stroke="#fff" stroke-width="1.3"><rect x="-2.3" y="-3.4" width="4.6" height="6.8" rx="2" transform="translate(5.4 5.6) rotate(-45)"/><rect x="-2.3" y="-3.4" width="4.6" height="6.8" rx="2" transform="translate(10.7 10.9) rotate(-45)"/></g></g>
<text y="946.1" style="font-size:12.3px;font-weight:normal" fill="#1c1c1c" stroke="#1c1c1c" stroke-width="0.15"><tspan x="626.0 638.3 650.6 662.9">财务报表</tspan></text>
<g transform="translate(607.8 1024.8)"><rect x="0" y="0" width="16" height="16" rx="1.5" fill="#2cb3c8"/><g fill="none" stroke="#fff" stroke-width="1.3"><rect x="-2.3" y="-3.4" width="4.6" height="6.8" rx="2" transform="translate(5.4 5.6) rotate(-45)"/><rect x="-2.3" y="-3.4" width="4.6" height="6.8" rx="2" transform="translate(10.7 10.9) rotate(-45)"/></g></g>
<text y="1037.9" style="font-size:12.3px;font-weight:normal" fill="#1c1c1c" stroke="#1c1c1c" stroke-width="0.15"><tspan x="638.3 650.6 662.9">所需的</tspan><tspan x="680.4" style="font-size:15.4px">“</tspan><tspan x="687.5 699.8 712.1 724.4">业绩报表</tspan><tspan x="738.2" style="font-size:15.4px">”</tspan></text>
<text x="626.3" y="1037.9" textLength="11.7" lengthAdjust="spacingAndGlyphs" style="font-family:'Liberation Mono',monospace;font-size:12.5px;font-weight:normal" fill="#1c1c1c" stroke="#1c1c1c" stroke-width="0.15">HR</text>
<text y="880.1" style="font-size:12.3px;font-weight:normal" fill="#1c1c1c" stroke="#1c1c1c" stroke-width="0.15"><tspan x="721.2 733.5 745.8 758.1">付款记录</tspan></text>
<text y="906.7" style="font-size:12.3px;font-weight:normal" fill="#1c1c1c" stroke="#1c1c1c" stroke-width="0.15"><tspan x="721.2 733.5 745.8 758.1">开票记录</tspan></text>
<text y="933.1" style="font-size:12.3px;font-weight:normal" fill="#1c1c1c" stroke="#1c1c1c" stroke-width="0.15"><tspan x="721.2 733.5 745.8 758.1 770.4">保证金记录</tspan></text>
<text y="959.0" style="font-size:12.3px;font-weight:normal" fill="#1c1c1c" stroke="#1c1c1c" stroke-width="0.15"><tspan x="721.2 733.5 745.8 758.1">收款记录</tspan></text>
<text y="984.1" style="font-size:12.3px;font-weight:normal" fill="#1c1c1c" stroke="#1c1c1c" stroke-width="0.15"><tspan x="721.2 733.5 745.8 758.1 770.4 782.7">进项税票记录</tspan></text>
<text y="1010.6" style="font-size:12.3px;font-weight:normal" fill="#1c1c1c" stroke="#1c1c1c" stroke-width="0.15"><tspan x="721.2 733.5 745.8 758.1 770.4 782.7">应收账款报表</tspan></text>
<text y="1010.9" style="font-size:12.3px;font-weight:normal" fill="#1c1c1c" stroke="#1c1c1c" stroke-width="0.15"><tspan x="840.9 853.2 865.5 877.8 890.1 902.4 914.7 927.0 939.3 951.6 963.9 976.2">含项目总采购额及已付金额</tspan></text>
<text y="1070.8" style="font-size:12.3px;font-weight:normal" fill="#1c1c1c" stroke="#1c1c1c" stroke-width="0.15"><tspan x="189.1 201.4 213.7 226.0 238.3 250.6 262.9 275.2">展示产品相关数据</tspan></text>
<text y="1123.1" style="font-size:12.3px;font-weight:normal" fill="#1c1c1c" stroke="#1c1c1c" stroke-width="0.15"><tspan x="189.1 201.4 213.7 226.0 238.3 250.6 262.9 275.2">录入产品相关数据</tspan></text>
<text y="1096.6" style="font-size:12.3px;font-weight:normal" fill="#1c1c1c" stroke="#1c1c1c" stroke-width="0.15"><tspan x="32.6 44.9 57.2 69.5 81.8 94.1 106.4 118.7 131.0">产品分值市场指导价</tspan></text>
<text y="1123.1" style="font-size:12.3px;font-weight:normal" fill="#1c1c1c" stroke="#1c1c1c" stroke-width="0.15"><tspan x="81.8 94.1 106.4 118.7 131.0">更新新产品</tspan></text>
<text y="1149.1" style="font-size:12.3px;font-weight:normal" fill="#1c1c1c" stroke="#1c1c1c" stroke-width="0.15"><tspan x="69.5 81.8 94.1 106.4 118.7 131.0">产品相关信息</tspan></text>
<text y="1181.1" style="font-size:12.3px;font-weight:normal" fill="#1c1c1c" stroke="#1c1c1c" stroke-width="0.15"><tspan x="597.3 609.6 621.9 634.2 646.5 658.8 671.1 683.4 695.7 708.0 720.3 732.6 744.9 757.2">客户主数据、展示与客户相关的</tspan><tspan x="787.9">、</tspan><tspan x="818.7 831.0 843.3">、项目</tspan></text>
<text x="769.8" y="1181.1" textLength="17.9" lengthAdjust="spacingAndGlyphs" style="font-family:'Liberation Mono',monospace;font-size:12.5px;font-weight:normal" fill="#1c1c1c" stroke="#1c1c1c" stroke-width="0.15">MPC</text>
<text x="800.5" y="1181.1" textLength="17.9" lengthAdjust="spacingAndGlyphs" style="font-family:'Liberation Mono',monospace;font-size:12.5px;font-weight:normal" fill="#1c1c1c" stroke="#1c1c1c" stroke-width="0.15">PSI</text>
<text y="1207.1" style="font-size:12.3px;font-weight:normal" fill="#1c1c1c" stroke="#1c1c1c" stroke-width="0.15"><tspan x="597.3 609.6 621.9 634.2 646.5 658.8 671.1 683.4">提供客户标准数据</tspan></text>
<text y="1233.1" style="font-size:12.3px;font-weight:normal" fill="#1c1c1c" stroke="#1c1c1c" stroke-width="0.15"><tspan x="597.3 609.6 621.9 634.2 646.5 658.8 671.1 683.4 695.7">核查完善客户主数据</tspan></text>
<text y="1265.1" style="font-size:12.3px;font-weight:normal" fill="#1c1c1c" stroke="#1c1c1c" stroke-width="0.15"><tspan x="188.2 200.5 212.8 225.1 237.4 249.7 262.0 274.3">展示业绩实时报表</tspan></text>
<g transform="translate(170.5 1280.0)"><rect x="0" y="0" width="16" height="16" rx="1.5" fill="#2cb3c8"/><g fill="none" stroke="#fff" stroke-width="1.3"><rect x="-2.3" y="-3.4" width="4.6" height="6.8" rx="2" transform="translate(5.4 5.6) rotate(-45)"/><rect x="-2.3" y="-3.4" width="4.6" height="6.8" rx="2" transform="translate(10.7 10.9) rotate(-45)"/></g></g>
<text y="1293.1" style="font-size:12.3px;font-weight:normal" fill="#1c1c1c" stroke="#1c1c1c" stroke-width="0.15"><tspan x="190.5 202.8 215.1 227.4 239.7 252.0 264.3">按分值显示业绩</tspan></text>
<g transform="translate(170.5 1307.7)"><rect x="0" y="0" width="16" height="16" rx="1.5" fill="#2cb3c8"/><g fill="none" stroke="#fff" stroke-width="1.3"><rect x="-2.3" y="-3.4" width="4.6" height="6.8" rx="2" transform="translate(5.4 5.6) rotate(-45)"/><rect x="-2.3" y="-3.4" width="4.6" height="6.8" rx="2" transform="translate(10.7 10.9) rotate(-45)"/></g></g>
<text y="1320.8" style="font-size:12.3px;font-weight:normal" fill="#1c1c1c" stroke="#1c1c1c" stroke-width="0.15"><tspan x="190.5 202.8 215.1 227.4 239.7 252.0 264.3">按金额显示业绩</tspan></text>
<g transform="translate(146.6 1335.5)"><rect x="0" y="0" width="16" height="16" rx="1.5" fill="#2cb3c8"/><g fill="none" stroke="#fff" stroke-width="1.3"><rect x="-2.3" y="-3.4" width="4.6" height="6.8" rx="2" transform="translate(5.4 5.6) rotate(-45)"/><rect x="-2.3" y="-3.4" width="4.6" height="6.8" rx="2" transform="translate(10.7 10.9) rotate(-45)"/></g></g>
<text y="1348.6" style="font-size:12.3px;font-weight:normal" fill="#1c1c1c" stroke="#1c1c1c" stroke-width="0.15"><tspan x="165.9 178.2 190.5 202.8 215.1 227.4 239.7 252.0 264.3">按人员分值显示业绩</tspan></text>
<g transform="translate(146.6 1363.0)"><rect x="0" y="0" width="16" height="16" rx="1.5" fill="#2cb3c8"/><g fill="none" stroke="#fff" stroke-width="1.3"><rect x="-2.3" y="-3.4" width="4.6" height="6.8" rx="2" transform="translate(5.4 5.6) rotate(-45)"/><rect x="-2.3" y="-3.4" width="4.6" height="6.8" rx="2" transform="translate(10.7 10.9) rotate(-45)"/></g></g>
<text y="1376.1" style="font-size:12.3px;font-weight:normal" fill="#1c1c1c" stroke="#1c1c1c" stroke-width="0.15"><tspan x="165.9 178.2 190.5 202.8 215.1 227.4 239.7 252.0 264.3">按人员金额显示业绩</tspan></text>
<text y="1409.1" style="font-size:12.3px;font-weight:normal" fill="#1c1c1c" stroke="#1c1c1c" stroke-width="0.15"><tspan x="598.0 610.3 622.6 634.9 647.2 659.5 671.8 684.1 696.4 708.7 721.0 733.3">集中显示跨部门的业务信息</tspan></text>
<g transform="translate(607.4 1422.8)"><rect x="0" y="0" width="16" height="16" rx="1.5" fill="#2cb3c8"/><g fill="none" stroke="#fff" stroke-width="1.3"><rect x="-2.3" y="-3.4" width="4.6" height="6.8" rx="2" transform="translate(5.4 5.6) rotate(-45)"/><rect x="-2.3" y="-3.4" width="4.6" height="6.8" rx="2" transform="translate(10.7 10.9) rotate(-45)"/></g></g>
<text y="1436.1" style="font-size:12.3px;font-weight:normal" fill="#1c1c1c" stroke="#1c1c1c" stroke-width="0.15"><tspan x="626.0 638.3 650.6 662.9 675.2 687.5 699.8 712.1">各部门应收账款表</tspan></text>
<g transform="translate(607.4 1451.7)"><rect x="0" y="0" width="16" height="16" rx="1.5" fill="#2cb3c8"/><g fill="none" stroke="#fff" stroke-width="1.3"><rect x="-2.3" y="-3.4" width="4.6" height="6.8" rx="2" transform="translate(5.4 5.6) rotate(-45)"/><rect x="-2.3" y="-3.4" width="4.6" height="6.8" rx="2" transform="translate(10.7 10.9) rotate(-45)"/></g></g>
<text y="1464.8" style="font-size:12.3px;font-weight:normal" fill="#1c1c1c" stroke="#1c1c1c" stroke-width="0.15"><tspan x="626.0 638.3 650.6 662.9 675.2 687.5">预计开票报表</tspan></text>
<g transform="translate(607.4 1479.2)"><rect x="0" y="0" width="16" height="16" rx="1.5" fill="#2cb3c8"/><g fill="none" stroke="#fff" stroke-width="1.3"><rect x="-2.3" y="-3.4" width="4.6" height="6.8" rx="2" transform="translate(5.4 5.6) rotate(-45)"/><rect x="-2.3" y="-3.4" width="4.6" height="6.8" rx="2" transform="translate(10.7 10.9) rotate(-45)"/></g></g>
<text y="1492.3" style="font-size:12.3px;font-weight:normal" fill="#1c1c1c" stroke="#1c1c1c" stroke-width="0.15"><tspan x="626.0 638.3 650.6 662.9 675.2 687.5">预计回款报表</tspan></text>
<g transform="translate(607.4 1507.0)"><rect x="0" y="0" width="16" height="16" rx="1.5" fill="#2cb3c8"/><g fill="none" stroke="#fff" stroke-width="1.3"><rect x="-2.3" y="-3.4" width="4.6" height="6.8" rx="2" transform="translate(5.4 5.6) rotate(-45)"/><rect x="-2.3" y="-3.4" width="4.6" height="6.8" rx="2" transform="translate(10.7 10.9) rotate(-45)"/></g></g>
<text y="1520.1" style="font-size:12.3px;font-weight:normal" fill="#1c1c1c" stroke="#1c1c1c" stroke-width="0.15"><tspan x="626.0 638.3 650.6 662.9 675.2 687.5">资金需求报表</tspan></text>
<text y="1437.1" style="font-size:12.3px;font-weight:normal" fill="#1c1c1c" stroke="#1c1c1c" stroke-width="0.15"><tspan x="770.4 782.7 795.0 807.3 819.6 831.9 844.2 856.5 868.8 881.1">数据来源：项目主数据</tspan></text>
<text y="1463.9" style="font-size:12.3px;font-weight:normal" fill="#1c1c1c" stroke="#1c1c1c" stroke-width="0.15"><tspan x="746.0 758.3 770.6 782.9 795.2 807.5 819.8 832.1 844.4 856.7 869.0 881.3 893.6 905.9 918.2 930.5 942.8 955.1 967.4">数据来源：项目中销售填写的预计开票数据</tspan></text>
<text y="1491.1" style="font-size:12.3px;font-weight:normal" fill="#1c1c1c" stroke="#1c1c1c" stroke-width="0.15"><tspan x="746.0 758.3 770.6 782.9 795.2 807.5 819.8 832.1 844.4 856.7 869.0 881.3 893.6 905.9 918.2 930.5 942.8 955.1 967.4">数据来源：项目中销售填写的预计回款数据</tspan></text>
<text y="1520.1" style="font-size:12.3px;font-weight:normal" fill="#1c1c1c" stroke="#1c1c1c" stroke-width="0.15"><tspan x="746.0 758.3 770.6 782.9 795.2 807.5 819.8 832.1 844.4 856.7 869.0 881.3 893.6 905.9">数据来源：商务根据销售提供的</tspan><tspan x="936.6 948.9 961.2 973.5 985.8 998.1">填写资金需要</tspan></text>
<text x="918.5" y="1520.1" textLength="17.9" lengthAdjust="spacingAndGlyphs" style="font-family:'Liberation Mono',monospace;font-size:12.5px;font-weight:normal" fill="#1c1c1c" stroke="#1c1c1c" stroke-width="0.15">PSI</text>
<text y="1554.1" style="font-size:12.3px;font-weight:normal" fill="#1c1c1c" stroke="#1c1c1c" stroke-width="0.15"><tspan x="127.4 139.7 152.0 164.3 176.6 188.9 201.2 213.5 225.8 238.1 250.4 262.7 275.0">以可视化方式展示定制化数据</tspan></text>
<g transform="translate(101.0 1566.6)"><rect x="0" y="0" width="16" height="16" rx="1.5" fill="#9a78d6"/><rect x="2.7" y="6.6" width="2.4" height="5.8" fill="#fff"/><rect x="6.8" y="2.2" width="2.4" height="10.2" fill="#fff"/><rect x="10.9" y="3.2" width="2.4" height="9.2" fill="#fff"/><rect x="2.2" y="12.5" width="11.6" height="1.3" fill="#fff" opacity="0.3"/></g>
<text y="1579.7" style="font-size:12.3px;font-weight:normal" fill="#1c1c1c" stroke="#1c1c1c" stroke-width="0.15"><tspan x="122.6 134.9 147.2 159.5 171.8 184.1 196.4">按年合计各部门</tspan><tspan x="227.1 239.4 251.7 264.0">预算总额</tspan></text>
<text x="209.0" y="1579.7" textLength="17.9" lengthAdjust="spacingAndGlyphs" style="font-family:'Liberation Mono',monospace;font-size:12.5px;font-weight:normal" fill="#1c1c1c" stroke="#1c1c1c" stroke-width="0.15">MPC</text>
<g transform="translate(113.9 1595.0)"><rect x="0" y="0" width="16" height="16" rx="1.5" fill="#9a78d6"/><rect x="2.7" y="6.6" width="2.4" height="5.8" fill="#fff"/><rect x="6.8" y="2.2" width="2.4" height="10.2" fill="#fff"/><rect x="10.9" y="3.2" width="2.4" height="9.2" fill="#fff"/><rect x="2.2" y="12.5" width="11.6" height="1.3" fill="#fff" opacity="0.3"/></g>
<text y="1608.1" style="font-size:12.3px;font-weight:normal" fill="#1c1c1c" stroke="#1c1c1c" stroke-width="0.15"><tspan x="134.8 147.2 159.5 171.8 184.1 196.4 208.7">按年合计各部门</tspan><tspan x="239.4 251.7 264.0">总分值</tspan></text>
<text x="221.3" y="1608.1" textLength="17.9" lengthAdjust="spacingAndGlyphs" style="font-family:'Liberation Mono',monospace;font-size:12.5px;font-weight:normal" fill="#1c1c1c" stroke="#1c1c1c" stroke-width="0.15">MPC</text>
</svg>
</body></html>
